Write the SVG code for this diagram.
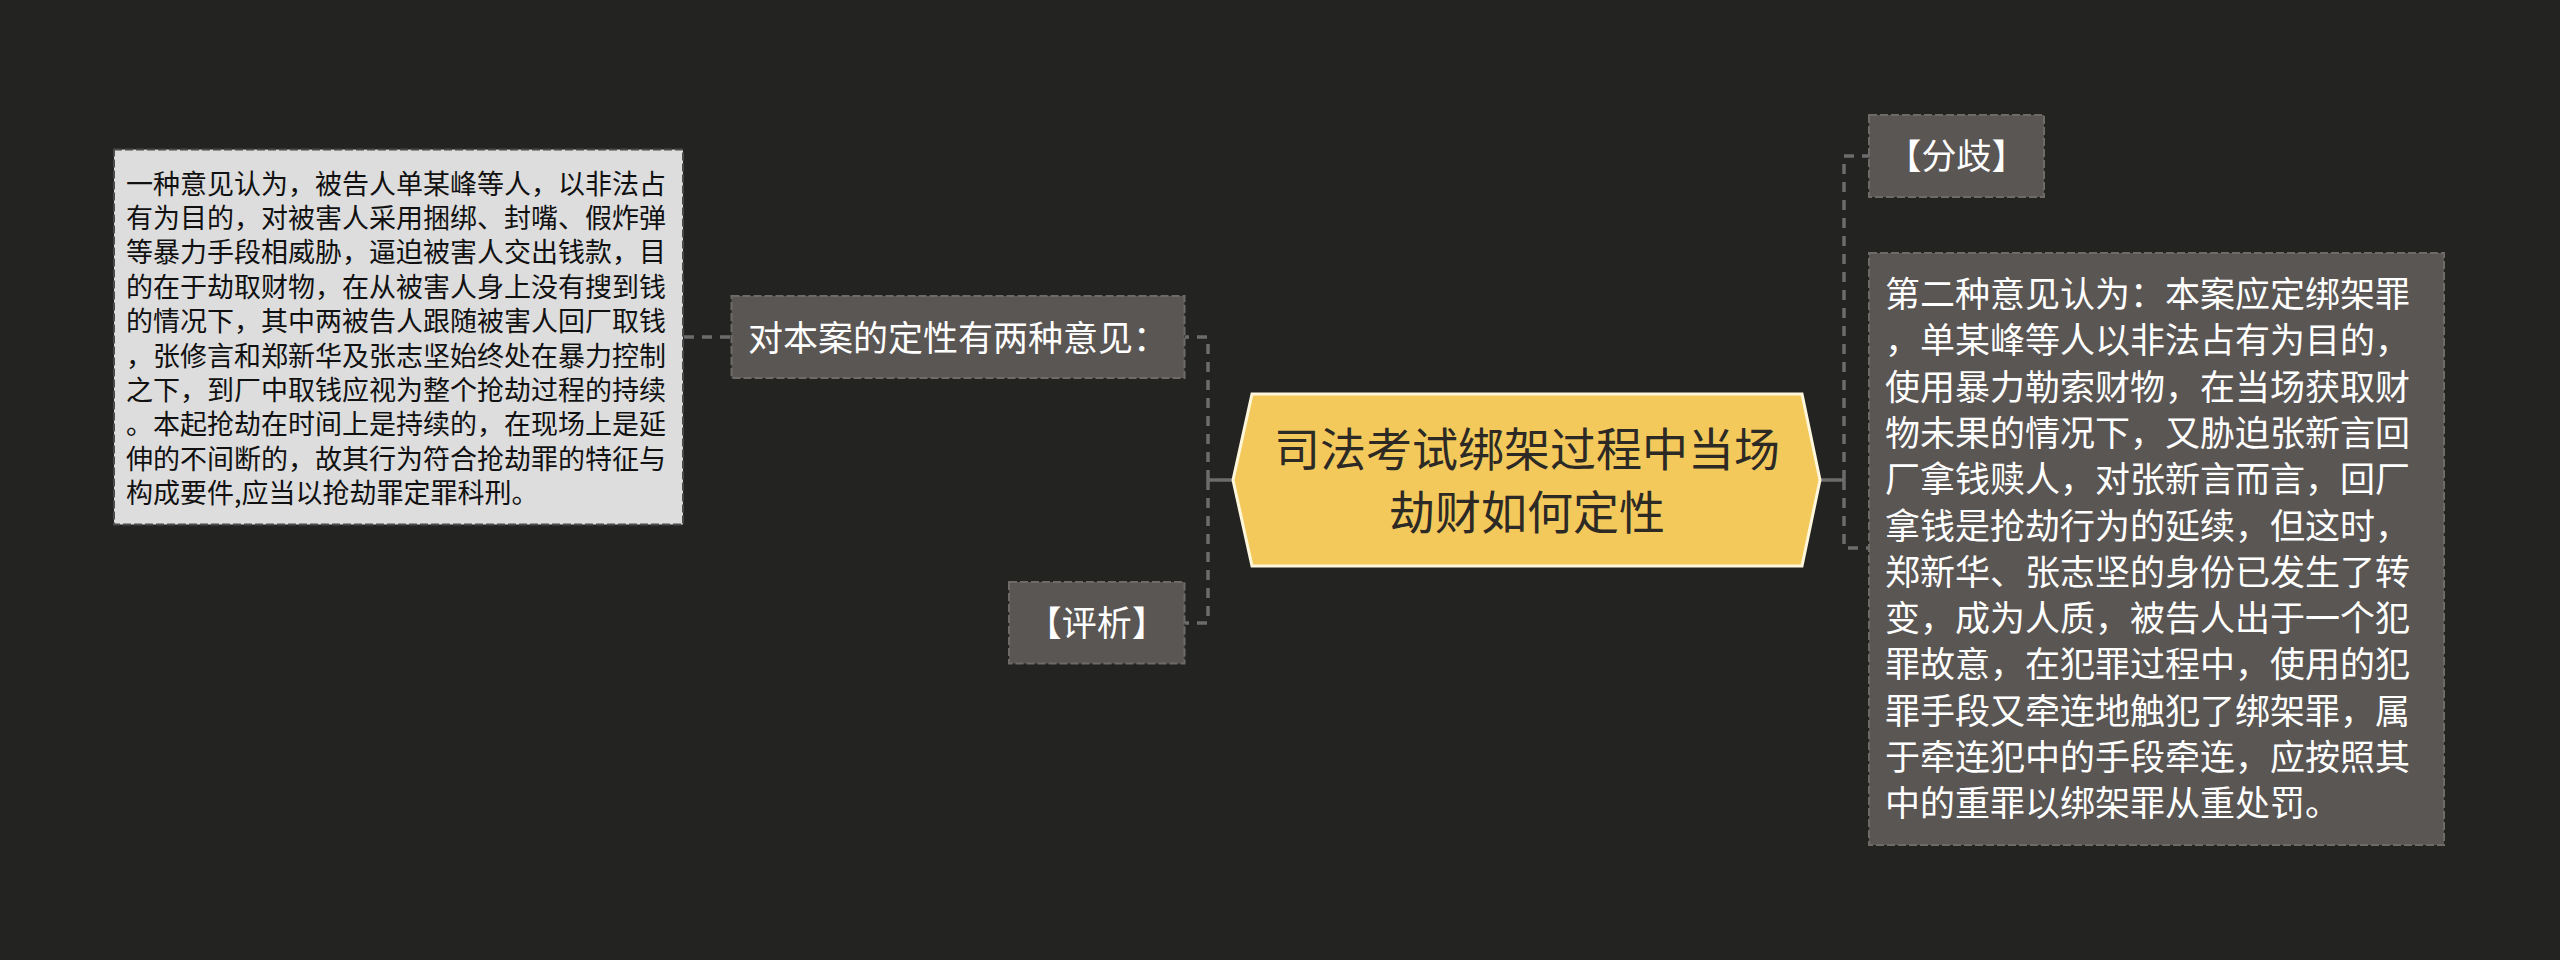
<svg xmlns="http://www.w3.org/2000/svg" width="2560" height="960" viewBox="0 0 2560 960">
<style>
text{font-family:"Noto Sans CJK SC","Noto Sans",sans-serif;}
.dark{fill:#5a5654;stroke:#6e6a67;stroke-width:2;stroke-dasharray:8 3;}
.light{fill:#dddddd;stroke:#4a4a4a;stroke-width:2;stroke-dasharray:8 3;}
.wt{fill:#ffffff;font-size:35px;}
.bt{fill:#111111;font-size:27px;}
.ct{fill:#2d2a26;font-size:46px;}
.c{fill:none;stroke:#6c6c6c;stroke-width:3.5;}
.cd{fill:none;stroke:#6c6c6c;stroke-width:3.5;stroke-dasharray:10 8;}
</style>
<rect x="0" y="0" width="2560" height="960" fill="#232322"/>
<g id="connectors">
<path class="cd" d="M684 337 H731"/>
<path class="c" d="M1233 480 H1208"/>
<path class="cd" d="M1208 480 V337 H1185"/>
<path class="cd" d="M1208 480 V623 H1185"/>
<path class="c" d="M1820 480 H1844"/>
<path class="cd" d="M1844 480 V156 H1869"/>
<path class="cd" d="M1844 480 V548 H1869"/>
</g>
<g id="node-root">
<polygon points="1233,480 1252,394 1802,394 1820,480 1802,566 1252,566" fill="#f3c95c" stroke="#fff7dc" stroke-width="3"/>
<text class="ct" x="1527" y="466" text-anchor="middle">司法考试绑架过程中当场</text>
<text class="ct" x="1527" y="529" text-anchor="middle">劫财如何定性</text>
</g>
<g id="node-opinions">
<rect class="dark" x="731.5" y="296" width="453" height="82"/>
<text class="wt" x="748" y="351">对本案的定性有两种意见：</text>
</g>
<g id="node-first-opinion">
<rect class="light" x="114" y="149.5" width="569" height="375"/>
<text class="bt" x="126" y="193.6">一种意见认为，被告人单某峰等人，以非法占</text>
<text class="bt" x="126" y="228">有为目的，对被害人采用捆绑、封嘴、假炸弹</text>
<text class="bt" x="126" y="262.4">等暴力手段相威胁，逼迫被害人交出钱款，目</text>
<text class="bt" x="126" y="296.8">的在于劫取财物，在从被害人身上没有搜到钱</text>
<text class="bt" x="126" y="331.2">的情况下，其中两被告人跟随被害人回厂取钱</text>
<text class="bt" x="126" y="365.6">，张修言和郑新华及张志坚始终处在暴力控制</text>
<text class="bt" x="126" y="400">之下，到厂中取钱应视为整个抢劫过程的持续</text>
<text class="bt" x="126" y="434.4">。本起抢劫在时间上是持续的，在现场上是延</text>
<text class="bt" x="126" y="468.8">伸的不间断的，故其行为符合抢劫罪的特征与</text>
<text class="bt" x="126" y="503.2">构成要件,应当以抢劫罪定罪科刑。</text>
</g>
<g id="node-analysis">
<rect class="dark" x="1009" y="582" width="175.5" height="81.5"/>
<text class="wt" x="1096.7" y="636" text-anchor="middle">【评析】</text>
</g>
<g id="node-divergence">
<rect class="dark" x="1869" y="115" width="175" height="82"/>
<text class="wt" x="1956.5" y="169" text-anchor="middle">【分歧】</text>
</g>
<g id="node-second-opinion">
<rect class="dark" x="1869" y="253" width="575" height="592"/>
<text class="wt" x="1885" y="307">第二种意见认为：本案应定绑架罪</text>
<text class="wt" x="1885" y="353.3">，单某峰等人以非法占有为目的，</text>
<text class="wt" x="1885" y="399.6">使用暴力勒索财物，在当场获取财</text>
<text class="wt" x="1885" y="445.9">物未果的情况下，又胁迫张新言回</text>
<text class="wt" x="1885" y="492.2">厂拿钱赎人，对张新言而言，回厂</text>
<text class="wt" x="1885" y="538.5">拿钱是抢劫行为的延续，但这时，</text>
<text class="wt" x="1885" y="584.8">郑新华、张志坚的身份已发生了转</text>
<text class="wt" x="1885" y="631.1">变，成为人质，被告人出于一个犯</text>
<text class="wt" x="1885" y="677.4">罪故意，在犯罪过程中，使用的犯</text>
<text class="wt" x="1885" y="723.7">罪手段又牵连地触犯了绑架罪，属</text>
<text class="wt" x="1885" y="770">于牵连犯中的手段牵连，应按照其</text>
<text class="wt" x="1885" y="816.3">中的重罪以绑架罪从重处罚。</text>
</g>
</svg>
